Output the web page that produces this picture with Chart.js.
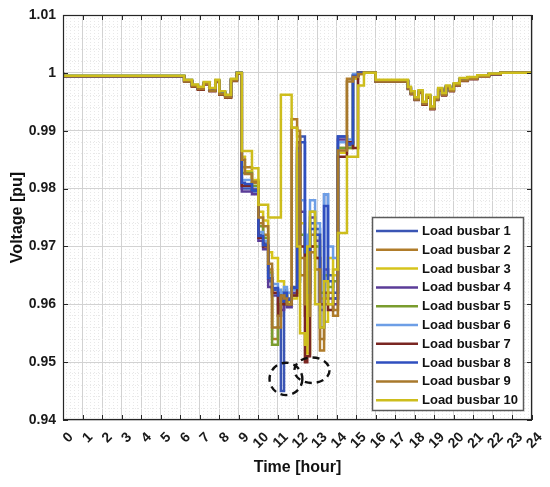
<!DOCTYPE html>
<html><head><meta charset="utf-8">
<style>html,body{margin:0;padding:0;background:#fff;}#wrap{width:550px;height:487px;}</style>
<script src="https://cdn.jsdelivr.net/npm/chart.js@4.4.0/dist/chart.umd.min.js"></script>
</head><body><div id="wrap"><canvas id="c" width="550" height="487"></canvas></div>
<script>
// time breakpoints (hours); each value holds until the next breakpoint
const times = [0, 6.2, 6.6, 6.9, 7.2, 7.5, 7.8, 8.0, 8.3, 8.6, 8.9, 9.15,
  9.31, 9.67, 10.0, 10.24, 10.5, 10.7, 11.0, 11.15, 11.31, 11.46, 11.7, 11.98, 12.13, 12.38, 12.5, 12.64, 12.9, 13.15,
  13.36, 13.56, 13.82, 14.07, 14.33, 14.53, 14.84, 15.1, 15.4, 15.71,
  16.0, 17.65, 17.8, 18.0, 18.2, 18.4, 18.6, 18.8, 19.0, 19.2, 19.4, 19.6, 19.8, 20.0, 20.3, 20.7, 21.2, 21.8, 22.4, 24];

const bus1 = [1.0000, 0.9994, 0.9986, 0.9978, 0.9973, 0.9982, 0.9971, 0.9986, 0.9965, 0.9960, 0.9988, 1.0000,
  0.9800, 0.9800, 0.9795, 0.9720, 0.9705, 0.9640, 0.9625, 0.9620, 0.9450, 0.9625, 0.9610, 0.9630, 0.9640, 0.9890, 0.9700, 0.9630, 0.9740, 0.9730,
  0.9600, 0.9790, 0.9650, 0.9620, 0.9890, 0.9890, 0.9875, 0.9995, 1.0000, 1.0000,
  1.0000, 0.9986, 0.9974, 0.9965, 0.9955, 0.9967, 0.9947, 0.9959, 0.9940, 0.9955, 0.9972, 0.9963, 0.9976, 0.9970, 0.9980, 0.9988, 0.9991, 0.9995, 0.9998, 1.0000];
const bus2 = [1.0000, 0.9994, 0.9985, 0.9977, 0.9972, 0.9981, 0.9969, 0.9985, 0.9963, 0.9958, 0.9987, 0.9999,
  0.9837, 0.9837, 0.9810, 0.9740, 0.9720, 0.9660, 0.9540, 0.9560, 0.9610, 0.9620, 0.9600, 0.9920, 0.9900, 0.9650, 0.9580, 0.9620, 0.9720, 0.9680,
  0.9520, 0.9600, 0.9600, 0.9580, 0.9870, 0.9870, 0.9990, 0.9995, 0.9998, 1.0000,
  1.0000, 0.9985, 0.9973, 0.9964, 0.9954, 0.9966, 0.9946, 0.9958, 0.9938, 0.9954, 0.9971, 0.9962, 0.9975, 0.9969, 0.9979, 0.9987, 0.9990, 0.9994, 0.9998, 1.0000];
const bus3 = [1.0000, 0.9995, 0.9987, 0.9979, 0.9975, 0.9983, 0.9973, 0.9987, 0.9967, 0.9961, 0.9989, 1.0000,
  0.9855, 0.9830, 0.9815, 0.9760, 0.9745, 0.9690, 0.9680, 0.9640, 0.9640, 0.9620, 0.9605, 0.9610, 0.9860, 0.9740, 0.9600, 0.9515, 0.9700, 0.9720,
  0.9610, 0.9570, 0.9680, 0.9650, 0.9862, 0.9862, 0.9870, 0.9990, 1.0000, 1.0000,
  1.0000, 0.9987, 0.9975, 0.9967, 0.9957, 0.9969, 0.9949, 0.9961, 0.9941, 0.9957, 0.9973, 0.9964, 0.9977, 0.9971, 0.9981, 0.9990, 0.9992, 0.9995, 0.9999, 1.0000];
const bus4 = [1.0000, 0.9994, 0.9986, 0.9977, 0.9973, 0.9981, 0.9970, 0.9985, 0.9964, 0.9959, 0.9988, 1.0000,
  0.9795, 0.9795, 0.9790, 0.9710, 0.9695, 0.9630, 0.9615, 0.9600, 0.9590, 0.9600, 0.9595, 0.9620, 0.9870, 0.9760, 0.9680, 0.9610, 0.9750, 0.9710,
  0.9590, 0.9660, 0.9610, 0.9600, 0.9885, 0.9885, 0.9880, 0.9995, 1.0000, 1.0000,
  1.0000, 0.9986, 0.9973, 0.9965, 0.9954, 0.9967, 0.9946, 0.9959, 0.9939, 0.9955, 0.9971, 0.9962, 0.9976, 0.9970, 0.9980, 0.9988, 0.9991, 0.9995, 0.9998, 1.0000];
const bus5 = [1.0000, 0.9995, 0.9987, 0.9978, 0.9974, 0.9982, 0.9972, 0.9986, 0.9966, 0.9960, 0.9989, 1.0000,
  0.9827, 0.9827, 0.9805, 0.9735, 0.9715, 0.9655, 0.9530, 0.9600, 0.9620, 0.9615, 0.9600, 0.9615, 0.9840, 0.9720, 0.9650, 0.9600, 0.9760, 0.9700,
  0.9620, 0.9650, 0.9630, 0.9640, 0.9870, 0.9870, 0.9870, 0.9995, 1.0000, 1.0000,
  1.0000, 0.9987, 0.9975, 0.9966, 0.9956, 0.9968, 0.9948, 0.9960, 0.9941, 0.9956, 0.9973, 0.9964, 0.9977, 0.9971, 0.9981, 0.9989, 0.9992, 0.9995, 0.9999, 1.0000];
const bus6 = [1.0000, 0.9995, 0.9988, 0.9979, 0.9975, 0.9983, 0.9973, 0.9987, 0.9967, 0.9961, 0.9989, 1.0000,
  0.9815, 0.9815, 0.9800, 0.9725, 0.9710, 0.9650, 0.9635, 0.9625, 0.9620, 0.9630, 0.9620, 0.9625, 0.9850, 0.9780, 0.9720, 0.9660, 0.9780, 0.9740,
  0.9560, 0.9790, 0.9700, 0.9680, 0.9880, 0.9880, 0.9885, 0.9998, 1.0000, 1.0000,
  1.0000, 0.9987, 0.9975, 0.9967, 0.9957, 0.9969, 0.9949, 0.9961, 0.9941, 0.9957, 0.9973, 0.9964, 0.9977, 0.9971, 0.9981, 0.9990, 0.9992, 0.9995, 0.9999, 1.0000];
const bus7 = [1.0000, 0.9994, 0.9985, 0.9976, 0.9971, 0.9980, 0.9968, 0.9984, 0.9962, 0.9957, 0.9986, 0.9999,
  0.9805, 0.9805, 0.9798, 0.9715, 0.9700, 0.9645, 0.9620, 0.9580, 0.9600, 0.9610, 0.9600, 0.9615, 0.9880, 0.9700, 0.9500, 0.9510, 0.9700, 0.9680,
  0.9600, 0.9620, 0.9590, 0.9610, 0.9855, 0.9855, 0.9880, 0.9870, 1.0000, 1.0000,
  1.0000, 0.9985, 0.9972, 0.9963, 0.9953, 0.9965, 0.9945, 0.9957, 0.9937, 0.9953, 0.9970, 0.9961, 0.9974, 0.9968, 0.9978, 0.9986, 0.9989, 0.9994, 0.9997, 1.0000];
const bus8 = [1.0000, 0.9994, 0.9986, 0.9978, 0.9973, 0.9982, 0.9971, 0.9986, 0.9965, 0.9960, 0.9988, 1.0000,
  0.9810, 0.9808, 0.9797, 0.9718, 0.9702, 0.9645, 0.9628, 0.9615, 0.9605, 0.9620, 0.9608, 0.9628, 0.9865, 0.9880, 0.9690, 0.9620, 0.9730, 0.9720,
  0.9560, 0.9770, 0.9640, 0.9610, 0.9890, 0.9890, 0.9878, 0.9995, 1.0000, 1.0000,
  1.0000, 0.9986, 0.9974, 0.9965, 0.9955, 0.9967, 0.9947, 0.9959, 0.9940, 0.9955, 0.9972, 0.9963, 0.9976, 0.9970, 0.9980, 0.9988, 0.9991, 0.9995, 0.9998, 1.0000];
const bus9 = [1.0000, 0.9994, 0.9985, 0.9977, 0.9972, 0.9981, 0.9969, 0.9985, 0.9963, 0.9958, 0.9987, 0.9999,
  0.9850, 0.9825, 0.9812, 0.9750, 0.9735, 0.9670, 0.9560, 0.9580, 0.9615, 0.9610, 0.9600, 0.9905, 0.9890, 0.9680, 0.9600, 0.9580, 0.9690, 0.9660,
  0.9540, 0.9610, 0.9620, 0.9590, 0.9866, 0.9866, 0.9985, 0.9993, 0.9998, 1.0000,
  1.0000, 0.9985, 0.9973, 0.9964, 0.9954, 0.9966, 0.9946, 0.9958, 0.9938, 0.9954, 0.9971, 0.9962, 0.9975, 0.9969, 0.9979, 0.9987, 0.9990, 0.9994, 0.9998, 1.0000];
const bus10 = [1.0000, 0.9995, 0.9988, 0.9980, 0.9976, 0.9984, 0.9974, 0.9988, 0.9968, 0.9962, 0.9990, 1.0000,
  0.9865, 0.9865, 0.9835, 0.9772, 0.9772, 0.9750, 0.9750, 0.9750, 0.9962, 0.9962, 0.9962, 0.9905, 0.9700, 0.9550, 0.9530, 0.9700, 0.9760, 0.9600,
  0.9560, 0.9640, 0.9600, 0.9660, 0.9723, 0.9723, 0.9855, 0.9855, 0.9978, 1.0000,
  1.0000, 0.9988, 0.9976, 0.9968, 0.9958, 0.9970, 0.9950, 0.9962, 0.9942, 0.9958, 0.9974, 0.9965, 0.9978, 0.9972, 0.9982, 0.9991, 0.9993, 0.9996, 0.9999, 1.0000];

const seriesValues = [bus1, bus2, bus3, bus4, bus5, bus6, bus7, bus8, bus9, bus10];
const seriesLabels = ['Load busbar 1','Load busbar 2','Load busbar 3','Load busbar 4','Load busbar 5',
  'Load busbar 6','Load busbar 7','Load busbar 8','Load busbar 9','Load busbar 10'];
const seriesColors = ['#3a55b4','#b07c2a','#d6c41c','#5b3c98','#7a9c2e','#6d9ee6','#7a2622','#2f4fbf','#a8792c','#cdbd1c'];

const xTickLabels = ['0','1','2','3','4','5','6','7','8','9','10','11','12','13','14','15','16','17','18','19','20','21','22','23','24'];
const yTickLabels = ['0.94','0.95','0.96','0.97','0.98','0.99','1','1.01'];

// dashed ellipses marking the minima: centre (hour, pu) and radii
const markX = [11.41, 12.74];
const markY = [0.9471, 0.9486];
const markRx = [0.84, 0.9];
const markRy = [0.0028, 0.0022];

const FONT = "'Liberation Sans', Arial, Helvetica, sans-serif";

function isMajorX(v){ return Math.abs(v - Math.round(v)) < 1e-6; }
function yIndex(v){ const t = (v - 0.94) * 100; const k = Math.round(t); return Math.abs(t - k) < 1e-4 ? k : -1; }

const overlay = {
  id: 'overlay',
  afterDatasetsDraw(chart) {
    const {ctx, chartArea: a, scales: {x, y}} = chart;
    ctx.save();
    // dashed ellipses
    ctx.strokeStyle = '#111';
    ctx.lineWidth = 2.4;
    ctx.setLineDash([7, 5]);
    for (let i = 0; i < markX.length; i++) {
      const cx = x.getPixelForValue(markX[i]), cy = y.getPixelForValue(markY[i]);
      const rx = Math.abs(x.getPixelForValue(markX[i] + markRx[i]) - cx);
      const ry = Math.abs(y.getPixelForValue(markY[i] + markRy[i]) - cy);
      ctx.beginPath(); ctx.ellipse(cx, cy, rx, ry, 0, 0, Math.PI * 2); ctx.stroke();
    }
    ctx.setLineDash([]);
    // tick marks (inside), all four sides
    ctx.strokeStyle = '#262626'; ctx.lineWidth = 1;
    ctx.beginPath();
    for (let i = 0; i < xTickLabels.length; i++) {
      const px = Math.round(x.getPixelForValue(i)) + 0.5;
      ctx.moveTo(px, a.bottom); ctx.lineTo(px, a.bottom - 5);
      ctx.moveTo(px, a.top); ctx.lineTo(px, a.top + 5);
    }
    for (let k = 0; k < yTickLabels.length; k++) {
      const py = Math.round(y.getPixelForValue(0.94 + k * 0.01)) + 0.5;
      ctx.moveTo(a.left, py); ctx.lineTo(a.left + 5, py);
      ctx.moveTo(a.right, py); ctx.lineTo(a.right - 5, py);
    }
    ctx.stroke();
    // frame
    ctx.strokeStyle = '#262626'; ctx.lineWidth = 1.2;
    ctx.strokeRect(Math.round(a.left) + 0.5, Math.round(a.top) + 0.5, Math.round(a.width) - 1, Math.round(a.height) - 1);
    // legend box
    const bw = 151, bh = 193;
    const bx = a.right - 9 - bw, by = a.bottom - 10 - bh;
    ctx.fillStyle = '#ffffff';
    ctx.fillRect(bx, by, bw, bh);
    ctx.strokeStyle = '#5a5a5a'; ctx.lineWidth = 1.5;
    ctx.strokeRect(bx + 0.5, by + 0.5, bw, bh);
    ctx.font = 'bold 13px ' + FONT;
    ctx.textBaseline = 'middle'; ctx.textAlign = 'left';
    chart.data.datasets.forEach((ds, i) => {
      const ry = by + 14 + i * 18.8;
      ctx.strokeStyle = ds.borderColor; ctx.lineWidth = 2.5;
      ctx.beginPath(); ctx.moveTo(bx + 4, ry); ctx.lineTo(bx + 46, ry); ctx.stroke();
      ctx.fillStyle = '#111';
      ctx.fillText(ds.label, bx + 50, ry + 0.5);
    });
    ctx.restore();
  }
};

const datasets = seriesValues.map((vals, i) => ({
  label: seriesLabels[i],
  data: times.map((t, j) => ({x: t, y: vals[j]})),
  borderColor: seriesColors[i],
  backgroundColor: seriesColors[i],
  borderWidth: 2.5,
  pointRadius: 0,
  stepped: 'after',
  fill: false,
  order: seriesValues.length - i
}));

new Chart(document.getElementById('c'), {
  type: 'line',
  data: {datasets},
  options: {
    responsive: false,
    devicePixelRatio: 1,
    animation: false,
    layout: {padding: {top: 15, right: 18, left: 0, bottom: 0}},
    plugins: {legend: {display: false}, tooltip: {enabled: false}},
    scales: {
      x: {
        type: 'linear', min: 0, max: 24,
        afterFit: s => { s.height = 67; s.paddingLeft = 0; s.paddingRight = 0; },
        ticks: {
          stepSize: 0.2, maxTicksLimit: 1000, autoSkip: false,
          minRotation: 45, maxRotation: 45, labelOffset: 8, padding: 9,
          color: '#1a1a1a', font: {family: FONT, size: 14, weight: 'bold'},
          callback: v => isMajorX(v) ? xTickLabels[Math.round(v)] : ''
        },
        grid: {
          drawTicks: false,
          color: c => isMajorX(c.tick.value) ? '#d2d2d2' : '#e8e8e8',
          lineWidth: 1
        },
        border: {display: false, dash: c => (c.tick && isMajorX(c.tick.value)) ? [] : [1, 2]},
        title: {display: true, text: 'Time [hour]', color: '#111',
          font: {family: FONT, size: 16, weight: 'bold'}, padding: {top: 2, bottom: 10}}
      },
      y: {
        type: 'linear', min: 0.94, max: 1.01,
        afterFit: s => { s.width = 63; s.paddingTop = 0; s.paddingBottom = 0; },
        ticks: {
          stepSize: 0.002, maxTicksLimit: 1000, autoSkip: false, padding: 7,
          color: '#1a1a1a', font: {family: FONT, size: 14, weight: 'bold'},
          callback: v => { const k = yIndex(v); return k >= 0 ? yTickLabels[k] : ''; }
        },
        grid: {
          drawTicks: false,
          color: c => yIndex(c.tick.value) >= 0 ? '#d2d2d2' : '#e8e8e8',
          lineWidth: 1
        },
        border: {display: false, dash: c => (c.tick && yIndex(c.tick.value) >= 0) ? [] : [1, 2]},
        title: {display: true, text: 'Voltage [pu]', color: '#111',
          font: {family: FONT, size: 16, weight: 'bold'}, padding: {top: 8, bottom: 4}}
      }
    }
  },
  plugins: [overlay]
});
</script>
</body></html>
